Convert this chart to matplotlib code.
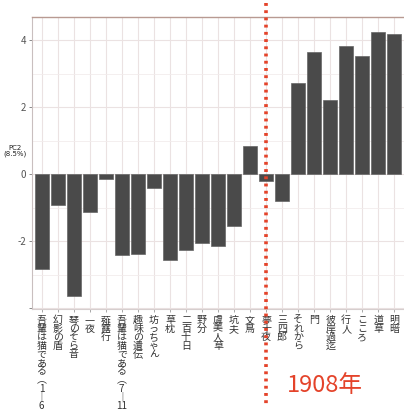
import matplotlib
matplotlib.use("Agg")
import matplotlib.pyplot as plt
import matplotlib.transforms as mtransforms

plt.rcParams["font.family"] = ["Noto Sans CJK JP", "DejaVu Sans"]

works = ["吾輩は猫である︵1︱6", "幻影の盾", "琴のそら音", "一夜", "薤露行",
         "吾輩は猫である︵7︱11", "趣味の遺伝", "坊っちゃん", "草枕", "二百十日",
         "野分", "虞美人草", "坑夫", "文鳥", "夢十夜", "三四郎", "それから", "門",
         "彼岸過迄", "行人", "こころ", "道草", "明暗"]
pc2 = [-2.85, -0.92, -3.63, -1.12, -0.15, -2.42, -2.40, -0.42, -2.58, -2.27,
       -2.05, -2.15, -1.54, 0.84, -0.20, -0.79, 2.71, 3.64, 2.22, 3.82,
       3.52, 4.24, 4.18]
split_work = "夢十夜"
split_label = "1908年"


def vertical(label):
    # stack characters top to bottom; "11" stays on one line
    if label.endswith("11"):
        return "\n".join(list(label[:-2]) + ["11"])
    return "\n".join(label)


fig = plt.figure(figsize=(4.04, 4.12), dpi=100)
ax = fig.add_axes([32 / 404, 1 - 309 / 412, 372 / 404, 292 / 412])

x = list(range(len(works)))
ax.bar(x, pc2, width=0.88, color="#4a4a4a", edgecolor="#666666",
       linewidth=0.5, zorder=3)

ax.set_xlim(-0.6, len(works) - 0.4)
ax.set_ylim(-4.03, 4.69)
ax.set_yticks([-4, -2, 0, 2, 4])
ax.set_yticklabels(["", "-2", "0", "2", "4"])
ax.set_yticks([-3, -1, 1, 3], minor=True)
ax.set_xticks(x)
ax.set_xticklabels([vertical(w) for w in works], linespacing=0.82,
                   va="top", fontsize=7.2, color="#333333")
ax.tick_params(axis="y", which="major", length=2.5, width=0.6,
               color="#777777", labelsize=7, labelcolor="#555555", pad=1.5)
ax.tick_params(axis="y", which="minor", length=0)
ax.tick_params(axis="x", length=2.5, width=0.6, color="#999999", pad=2)

ax.grid(True, which="major", color="#ebe2e2", linewidth=0.8, zorder=0)
ax.grid(True, which="minor", axis="y", color="#f2ecec", linewidth=0.6, zorder=0)
ax.set_axisbelow(True)

ax.spines["right"].set_visible(False)
ax.spines["top"].set_color("#b89a92")
ax.spines["top"].set_linewidth(1.0)
ax.spines["left"].set_color("#c9bfbf")
ax.spines["left"].set_linewidth(0.8)
ax.spines["bottom"].set_color("#d6cece")
ax.spines["bottom"].set_linewidth(0.8)

fig.text(15 / 404, 1 - 151 / 412, "PC2\n(8.5%)", ha="center", va="center",
         fontsize=5, color="#222222", linespacing=1.0, family="DejaVu Sans")

# dotted divider through the split work, running past the axes
sx = works.index(split_work)
trans = mtransforms.blended_transform_factory(ax.transData, ax.transAxes)
ax.plot([sx, sx], [1.048, -0.33], transform=trans, clip_on=False,
        color="#e4432a", linewidth=2.6, linestyle=(0, (0.8, 1.2)),
        solid_capstyle="butt", dash_capstyle="butt", zorder=5)

fig.text(325 / 404, 1 - 385 / 412, split_label, ha="center", va="center",
         fontsize=17, color="#e4432a")

fig.savefig("out.png", dpi=100)
